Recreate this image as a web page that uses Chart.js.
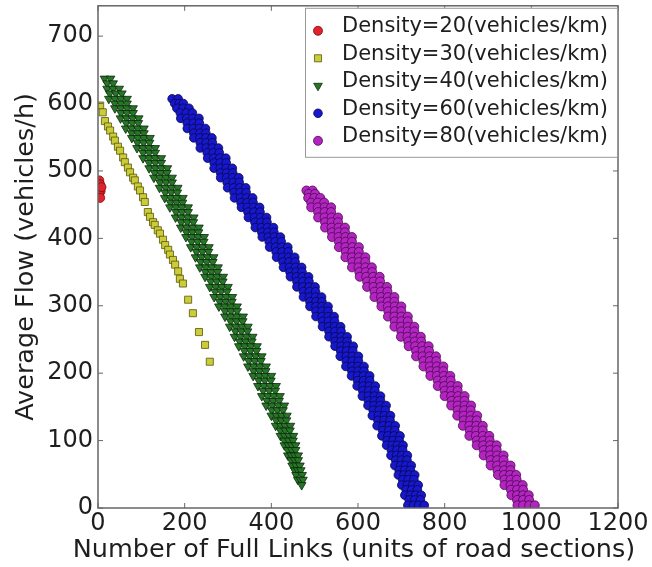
<!DOCTYPE html>
<html>
<head>
<meta charset="utf-8">
<script src="https://cdn.jsdelivr.net/npm/chart.js@4/dist/chart.umd.min.js"></script>
<style>
html,body{margin:0;padding:0;background:#fff;}
#wrap{width:652px;height:567px;position:relative;}
canvas{display:block;}
</style>
</head>
<body>
<div id="wrap"><canvas id="c" width="652" height="567"></canvas></div>
<script>
// ---------- data ----------
const seriesLabels = [
  'Density=20(vehicles/km)',
  'Density=30(vehicles/km)',
  'Density=40(vehicles/km)',
  'Density=60(vehicles/km)',
  'Density=80(vehicles/km)'
];
const xTitle = 'Number of Full Links (units of road sections)';
const yTitle = 'Average Flow (vehicles/h)';
const xMin = 0, xMax = 1200, xStep = 200;
const yMin = 0, yMax = 745, yStep = 100;

const density20 = [[3,486],[5,480],[2,474],[6,470],[3,465],[5,460],[8,476]];

const density30 = [[5,597],[11,587],[16,574],[23,566],[28,560],[35,551],[39,545],[46,536],[51,530],[58,520],
  [62,513],[69,505],[74,498],[81,490],[85,486],[92,477],[97,471],[104,461],[108,454],[115,439],[120,432],
  [127,424],[131,420],[138,412],[143,407],[150,398],[155,390],[162,383],[166,376],[173,368],[178,361],
  [185,351],[189,340],[196,333],[208,309],[219,289],[233,261],[247,242],[258,217]];

const density40 = [[15,637],[29,637],[21,630],[35,630],
  [21,622],[35,622],[49,622],[27,615],[41,615],[55,615],
  [25,607],[39,607],[53,607],[67,607],[39,600],[53,600],[67,600],
  [39,593],[53,593],[67,593],[81,593],[53,586],[67,586],[81,586],
  [52,578],[66,578],[80,578],[94,578],[65,571],[79,571],[93,571],
  [64,563],[78,563],[92,563],[106,563],[78,556],[92,556],[106,556],
  [78,549],[92,549],[106,549],[120,549],[91,542],[105,542],[119,542],
  [90,534],[104,534],[118,534],[132,534],[104,527],[118,527],[132,527],
  [104,519],[118,519],[132,519],[146,519],[118,512],[132,512],[146,512],
  [118,504],[132,504],[146,504],[160,504],[131,497],[145,497],[159,497],
  [129,490],[143,490],[157,490],[171,490],[143,483],[157,483],[171,483],
  [142,475],[156,475],[170,475],[184,475],[155,468],[169,468],[183,468],
  [154,460],[168,460],[182,460],[196,460],[167,453],[181,453],[195,453],
  [166,446],[180,446],[194,446],[208,446],[180,439],[194,439],[208,439],
  [179,431],[193,431],[207,431],[221,431],[192,424],[206,424],[220,424],
  [191,416],[205,416],[219,416],[233,416],[204,409],[218,409],[232,409],
  [203,402],[217,402],[231,402],[245,402],[216,395],[230,395],[244,395],
  [214,387],[228,387],[242,387],[256,387],[227,380],[241,380],[255,380],
  [225,372],[239,372],[253,372],[267,372],[237,365],[251,365],[265,365],
  [235,357],[249,357],[263,357],[277,357],[248,350],[262,350],[276,350],
  [247,343],[261,343],[275,343],[289,343],[260,336],[274,336],[288,336],
  [258,328],[272,328],[286,328],[300,328],[270,321],[284,321],[298,321],
  [268,313],[282,313],[296,313],[310,313],[281,306],[295,306],[309,306],
  [279,299],[293,299],[307,299],[321,299],[293,292],[307,292],[321,292],
  [293,284],[307,284],[321,284],[335,284],[306,277],[320,277],[334,277],
  [304,269],[318,269],[332,269],[346,269],[317,262],[331,262],[345,262],
  [315,254],[329,254],[343,254],[357,254],[327,247],[341,247],[355,247],
  [325,240],[339,240],[353,240],[367,240],[338,233],[352,233],[366,233],
  [336,225],[350,225],[364,225],[378,225],[348,218],[362,218],[376,218],
  [346,210],[360,210],[374,210],[388,210],[359,203],[373,203],[387,203],
  [358,196],[372,196],[386,196],[400,196],[371,189],[385,189],[399,189],
  [369,181],[383,181],[397,181],[411,181],[381,174],[395,174],[409,174],
  [378,166],[392,166],[406,166],[420,166],[390,159],[404,159],[418,159],
  [388,152],[402,152],[416,152],[430,152],[401,145],[414,145],[427,145],
  [400,137],[412,137],[424,137],[436,137],[411,130],[423,130],[435,130],
  [410,122],[422,122],[432,122],[444,122],[421,115],[432,115],[443,115],
  [421,107],[431,107],[441,107],[451,107],[430,100],[440,100],[450,100],
  [430,93],[439,93],[447,93],[456,93],[438,86],[447,86],[456,86],
  [438,78],[446,78],[454,78],[462,78],[446,71],[454,71],[462,71],
  [448,63],[457,63],[466,63],[454,56],[461,56],[468,56],
  [457,49],[471,49],[461,42],[467,42],[473,42],
  [470,34]];

const density60 = [[171,607],[185,607],[177,600],[187,600],[197,600],
  [182,593],[196,593],[210,593],[190,586],[204,586],[218,586],
  [191,578],[205,578],[219,578],[233,578],[206,571],[220,571],[234,571],
  [206,563],[220,563],[234,563],[248,563],[221,556],[235,556],[249,556],
  [221,549],[235,549],[249,549],[263,549],[236,542],[250,542],[264,542],
  [236,534],[250,534],[264,534],[278,534],[252,527],[266,527],[280,527],
  [253,519],[267,519],[281,519],[295,519],[268,512],[282,512],[296,512],
  [268,504],[282,504],[296,504],[310,504],[283,497],[297,497],[311,497],
  [283,490],[297,490],[311,490],[325,490],[298,483],[312,483],[326,483],
  [299,475],[313,475],[327,475],[341,475],[314,468],[328,468],[342,468],
  [315,460],[329,460],[343,460],[357,460],[330,453],[344,453],[358,453],
  [331,446],[345,446],[359,446],[373,446],[346,439],[360,439],[374,439],
  [347,431],[361,431],[375,431],[389,431],[362,424],[376,424],[390,424],
  [363,416],[377,416],[391,416],[405,416],[378,409],[392,409],[406,409],
  [379,402],[393,402],[407,402],[421,402],[395,395],[409,395],[423,395],
  [396,387],[410,387],[424,387],[438,387],[411,380],[425,380],[439,380],
  [412,372],[426,372],[440,372],[454,372],[427,365],[441,365],[455,365],
  [428,357],[442,357],[456,357],[470,357],[443,350],[457,350],[471,350],
  [444,343],[458,343],[472,343],[486,343],[459,336],[473,336],[487,336],
  [459,328],[473,328],[487,328],[501,328],[474,321],[488,321],[502,321],
  [474,313],[488,313],[502,313],[516,313],[489,306],[503,306],[517,306],
  [489,299],[503,299],[517,299],[531,299],[503,292],[517,292],[531,292],
  [503,284],[517,284],[531,284],[545,284],[518,277],[532,277],[546,277],
  [518,269],[532,269],[546,269],[560,269],[533,262],[547,262],[561,262],
  [533,254],[547,254],[561,254],[575,254],[547,247],[561,247],[575,247],
  [547,240],[561,240],[575,240],[589,240],[560,233],[574,233],[588,233],
  [559,225],[573,225],[587,225],[601,225],[573,218],[587,218],[601,218],
  [572,210],[586,210],[600,210],[614,210],[586,203],[600,203],[614,203],
  [585,196],[599,196],[613,196],[627,196],[599,189],[613,189],[627,189],
  [598,181],[612,181],[626,181],[640,181],[611,174],[625,174],[639,174],
  [610,166],[624,166],[638,166],[652,166],[624,159],[638,159],[652,159],
  [623,152],[637,152],[651,152],[665,152],[635,145],[649,145],[663,145],
  [633,137],[647,137],[661,137],[675,137],[646,130],[660,130],[674,130],
  [644,122],[658,122],[672,122],[686,122],[657,115],[671,115],[685,115],
  [655,107],[669,107],[683,107],[697,107],[667,100],[681,100],[695,100],
  [666,93],[679,93],[691,93],[704,93],[677,86],[690,86],[703,86],
  [676,78],[689,78],[701,78],[714,78],[687,71],[700,71],[713,71],
  [685,63],[698,63],[710,63],[723,63],[695,56],[708,56],[721,56],
  [693,49],[706,49],[718,49],[731,49],[703,42],[716,42],[729,42],
  [701,34],[714,34],[726,34],[739,34],[711,27],[724,27],[737,27],
  [708,19],[721,19],[733,19],[746,19],[718,12],[731,12],[744,12],
  [715,4],[728,4],[740,4],[753,4]];

const density80 = [[481,471],[495,471],[486,466],[501,466],
  [485,460],[499,460],[513,460],[492,453],[507,453],[522,453],
  [492,446],[507,446],[523,446],[538,446],[508,439],[523,439],[538,439],
  [508,431],[523,431],[539,431],[554,431],[524,424],[539,424],[554,424],
  [524,416],[539,416],[555,416],[570,416],[540,409],[555,409],[570,409],
  [540,402],[555,402],[571,402],[586,402],[556,395],[571,395],[586,395],
  [556,387],[571,387],[587,387],[602,387],[572,380],[587,380],[602,380],
  [571,372],[586,372],[602,372],[617,372],[587,365],[602,365],[617,365],
  [586,357],[601,357],[617,357],[632,357],[603,350],[618,350],[633,350],
  [604,343],[619,343],[635,343],[650,343],[621,336],[636,336],[651,336],
  [621,328],[636,328],[652,328],[667,328],[638,321],[653,321],[668,321],
  [638,313],[653,313],[669,313],[684,313],[654,306],[669,306],[684,306],
  [654,299],[669,299],[685,299],[700,299],[670,292],[685,292],[700,292],
  [669,284],[684,284],[700,284],[715,284],[685,277],[700,277],[715,277],
  [684,269],[699,269],[715,269],[730,269],[700,262],[715,262],[730,262],
  [699,254],[714,254],[730,254],[745,254],[716,247],[731,247],[746,247],
  [717,240],[732,240],[748,240],[763,240],[734,233],[749,233],[764,233],
  [734,225],[749,225],[765,225],[780,225],[751,218],[766,218],[781,218],
  [751,210],[766,210],[782,210],[797,210],[767,203],[782,203],[797,203],
  [767,196],[782,196],[798,196],[813,196],[784,189],[799,189],[814,189],
  [784,181],[799,181],[815,181],[830,181],[800,174],[815,174],[830,174],
  [800,166],[815,166],[831,166],[846,166],[816,159],[831,159],[846,159],
  [815,152],[830,152],[846,152],[861,152],[830,145],[845,145],[860,145],
  [829,137],[844,137],[860,137],[875,137],[844,130],[859,130],[874,130],
  [842,122],[857,122],[873,122],[888,122],[858,115],[873,115],[888,115],
  [857,107],[872,107],[888,107],[903,107],[874,100],[889,100],[904,100],
  [874,93],[889,93],[905,93],[920,93],[890,86],[905,86],[920,86],
  [890,78],[905,78],[921,78],[936,78],[906,71],[921,71],[936,71],
  [906,63],[921,63],[937,63],[952,63],[922,56],[937,56],[952,56],
  [923,49],[937,49],[951,49],[965,49],[938,42],[952,42],[966,42],
  [938,34],[952,34],[966,34],[980,34],[953,27],[967,27],[981,27],
  [954,19],[967,19],[981,19],[994,19],[967,12],[981,12],[995,12],
  [968,4],[981,4],[995,4],[1008,4]];

// ---------- chart ----------
const FONT = 'DejaVu Sans';
const TEXT = '#1e1e1e';
const toPts = arr => arr.map(p => ({x: p[0], y: p[1]}));

const styles = [
  {pointStyle:'circle',   radius:4.5, rotation:0,   bg:'#e3222b', bd:'#7a0c10'},
  {pointStyle:'rect',     radius:5,   rotation:0,   bg:'#cccc38', bd:'#55550e'},
  {pointStyle:'triangle', radius:5,   rotation:180, bg:'#277527', bd:'#0a2a0a'},
  {pointStyle:'circle',   radius:4.3, rotation:0,   bg:'#1717cc', bd:'#07074a'},
  {pointStyle:'circle',   radius:4.5, rotation:0,   bg:'#b324c0', bd:'#4a0a52'}
];
const seriesData = [density20, density30, density40, density60, density80];

const datasets = seriesData.map((d, i) => ({
  label: seriesLabels[i],
  data: toPts(d),
  showLine: false,
  pointStyle: styles[i].pointStyle,
  pointRadius: styles[i].radius,
  pointRotation: styles[i].rotation,
  pointBackgroundColor: styles[i].bg,
  pointBorderColor: styles[i].bd,
  pointBorderWidth: 0.8,
  backgroundColor: styles[i].bg,
  borderColor: styles[i].bd
}));

const framePlugin = {
  id: 'frame',
  afterDatasetsDraw(chart) {
    const {ctx, chartArea: a, scales} = chart;
    ctx.save();
    ctx.strokeStyle = '#666';
    ctx.lineWidth = 1.5;
    ctx.strokeRect(a.left, a.top, a.right - a.left, a.bottom - a.top);
    ctx.lineWidth = 1;
    ctx.beginPath();
    scales.x.ticks.forEach(t => {
      const px = scales.x.getPixelForValue(t.value);
      ctx.moveTo(px, a.bottom); ctx.lineTo(px, a.bottom - 5);
      ctx.moveTo(px, a.top); ctx.lineTo(px, a.top + 5);
    });
    scales.y.ticks.forEach(t => {
      const py = scales.y.getPixelForValue(t.value);
      ctx.moveTo(a.left, py); ctx.lineTo(a.left + 5, py);
      ctx.moveTo(a.right, py); ctx.lineTo(a.right - 5, py);
    });
    ctx.stroke();
    ctx.restore();
  }
};

// x-axis title drawn without the width limit Chart.js applies to axis titles
const xTitlePlugin = {
  id: 'xTitle',
  afterDraw(chart) {
    const {ctx, chartArea: a} = chart;
    ctx.save();
    ctx.font = '25.5px "' + FONT + '"';
    ctx.fillStyle = TEXT;
    ctx.textAlign = 'center';
    ctx.textBaseline = 'middle';
    ctx.fillText(xTitle, (a.left + a.right) / 2 - 4, chart.height - 17);
    ctx.restore();
  }
};

const boxLegendPlugin = {
  id: 'boxLegend',
  afterDraw(chart) {
    const {ctx, chartArea: a} = chart;
    const w = 312, h = 149;
    const x0 = a.right - w - 1, y0 = a.top + 2;
    ctx.save();
    ctx.fillStyle = '#fff';
    ctx.fillRect(x0, y0, w, h);
    ctx.strokeStyle = '#999';
    ctx.lineWidth = 1;
    ctx.strokeRect(x0 + 0.5, y0 + 0.5, w, h);
    ctx.font = '21px "' + FONT + '"';
    ctx.textBaseline = 'middle';
    ctx.textAlign = 'left';
    chart.data.datasets.forEach((ds, i) => {
      const cy = y0 + 19 + i * 27.5;
      const mx = x0 + 13;
      const st = styles[i];
      ctx.fillStyle = st.bg;
      ctx.strokeStyle = st.bd;
      ctx.lineWidth = 0.8;
      if (Chart.helpers && Chart.helpers.drawPoint) {
        Chart.helpers.drawPoint(ctx, {pointStyle: st.pointStyle, radius: st.radius, rotation: st.rotation, borderWidth: 0.8}, mx, cy + 4);
      } else {
        ctx.beginPath(); ctx.arc(mx, cy + 4, st.radius, 0, Math.PI * 2); ctx.fill(); ctx.stroke();
      }
      ctx.fillStyle = TEXT;
      ctx.fillText(ds.label, x0 + 37, cy);
    });
    ctx.restore();
  }
};

new Chart(document.getElementById('c'), {
  type: 'scatter',
  data: {datasets},
  options: {
    responsive: false,
    animation: false,
    events: [],
    layout: {padding: {left: 0, top: 1, right: 34, bottom: 0}},
    plugins: {legend: {display: false}, tooltip: {enabled: false}},
    scales: {
      x: {
        type: 'linear', min: xMin, max: xMax,
        ticks: {stepSize: xStep, autoSkip: false, maxRotation: 0, padding: 1, color: TEXT,
                font: {family: FONT, size: 24}, callback: v => String(v)},
        grid: {display: false, drawTicks: false},
        border: {display: false},
        title: {display: false, text: xTitle},
        afterFit: s => { s.height = 59; s.paddingLeft = 0; s.paddingRight = 0; }
      },
      y: {
        type: 'linear', min: yMin, max: yMax,
        ticks: {stepSize: yStep, padding: 5, color: TEXT, font: {family: FONT, size: 24},
                callback: v => String(v)},
        afterBuildTicks: s => { s.ticks = s.ticks.filter(t => t.value % yStep === 0); },
        grid: {display: false, drawTicks: false},
        border: {display: false},
        title: {display: true, text: yTitle, color: TEXT, font: {family: FONT, size: 25.5},
                padding: {top: 11, bottom: 0}},
        afterFit: s => { s.width = 98; s.paddingTop = 0; s.paddingBottom = 0; }
      }
    }
  },
  plugins: [framePlugin, xTitlePlugin, boxLegendPlugin]
});
</script>
</body>
</html>
